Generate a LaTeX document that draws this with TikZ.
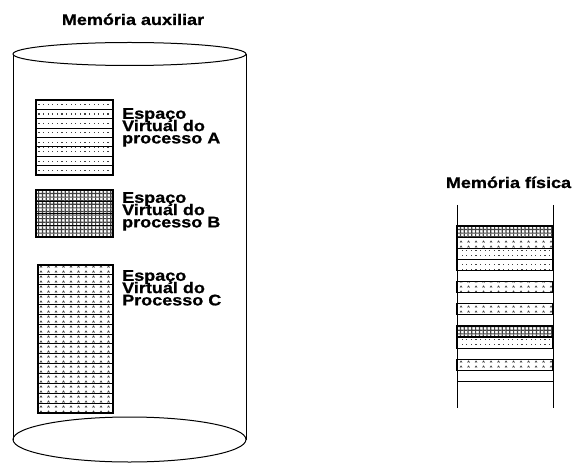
\documentclass[tikz,border=0pt]{standalone}
\usepackage{fontspec}
\newfontfamily\negrito{Liberation Sans}[FakeStretch=1.17, UprightFont=* Bold, FakeBold=0.9]
\usetikzlibrary{patterns}

% fonte dos rotulos, com linhas bem juntas
\newcommand\fonteRotulo{\negrito\fontsize{15.4}{12.3}\selectfont\setlength{\lineskiplimit}{-20pt}}

% padroes das paginas
\pgfdeclarepatternformonly{pontos}{\pgfpoint{-1pt}{-1pt}}{\pgfpoint{5pt}{5pt}}{\pgfpoint{4.6pt}{4.7pt}}{
  \pgfpathrectangle{\pgfpoint{1.5pt}{1.5pt}}{\pgfpoint{1.2pt}{1.2pt}}
  \pgfusepath{fill}}
\pgfdeclarepatternformonly{densos}{\pgfpoint{-1pt}{-1pt}}{\pgfpoint{5pt}{5pt}}{\pgfpoint{3.8pt}{3.6pt}}{
  \pgfpathrectangle{\pgfpoint{0pt}{0pt}}{\pgfpoint{1.2pt}{3.6pt}}
  \pgfpathrectangle{\pgfpoint{0pt}{0pt}}{\pgfpoint{3.8pt}{1.1pt}}
  \pgfusepath{fill}}
\pgfdeclarepatternformonly{triangulos}{\pgfpoint{-1pt}{-1pt}}{\pgfpoint{9pt}{6pt}}{\pgfpoint{7.5pt}{5pt}}{
  \pgfsetlinewidth{0.7pt}
  \pgfpathmoveto{\pgfpoint{2.5pt}{1.5pt}}
  \pgfpathlineto{\pgfpoint{3.5pt}{3pt}}
  \pgfpathlineto{\pgfpoint{4.5pt}{1.5pt}}
  \pgfusepath{stroke}}

\begin{document}
\begin{tikzpicture}[x=1pt, y=1pt,
    cilindro/.style={line width=1pt},
    bloco/.style={line width=1.2pt, pattern color=black!75},
    linha/.style={line width=1.1pt},
    titulo/.style={anchor=base, inner sep=0pt, font=\negrito\fontsize{15.4}{18}\selectfont},
    rotulo/.style={anchor=north west, inner sep=0pt, align=left, font=\fonteRotulo}]
    \useasboundingbox (0,0) rectangle (575,464);

    % memoria auxiliar (cilindro)
    \node[titulo] (tituloAux) at (133,439) {Memória auxiliar};
    \draw[cilindro] (13,410) -- (13,24.5);
    \draw[cilindro] (246,410) -- (246,24.5);
    \draw[cilindro, fill=white] (129.5,410) ellipse [x radius=116.5pt, y radius=11.5pt];
    \draw[cilindro] (129.5,24.5) ellipse [x radius=116.5pt, y radius=22.5pt];

    % processo A
    \draw[bloco, pattern=pontos] (36,364) rectangle (113,289);
    \foreach \i in {1,...,7}
        \draw[linha] (36,{364-\i*9.375}) -- (113,{364-\i*9.375});
    \node[rotulo] (rotA) at (122,356) {Espaço\\Virtual do\\processo A};

    % processo B
    \draw[bloco, pattern=densos] (36,274) rectangle (113,227);
    \foreach \i in {1,...,3}
        \draw[linha] (36,{274-\i*11.75}) -- (113,{274-\i*11.75});
    \node[rotulo] (rotB) at (122,272) {Espaço\\Virtual do\\processo B};

    % processo C
    \draw[bloco, pattern=triangulos] (38,199) rectangle (113,51);
    \foreach \i in {1,...,14}
        \draw[linha] (38,{199-\i*9.867}) -- (113,{199-\i*9.867});
    \node[rotulo] (rotC) at (122,194) {Espaço\\Virtual do\\Processo C};

    % memoria fisica
    \node[titulo] (tituloFis) at (508.5,276) {Memória física};
    \draw[cilindro] (457,259) -- (457,56);
    \draw[cilindro] (553,259) -- (553,56);
    \foreach \i in {0,...,14}
        \draw[line width=0.9pt] (457,{238-\i*11.1}) -- (553,{238-\i*11.1});
    \foreach \i/\p in {0/densos,1/triangulos,2/pontos,3/pontos,5/triangulos,
                       7/triangulos,9/densos,10/pontos,12/triangulos}
        \draw[bloco, pattern=\p] (457,{238-\i*11.1}) rectangle (553,{238-(\i+1)*11.1});
\end{tikzpicture}
\end{document}
